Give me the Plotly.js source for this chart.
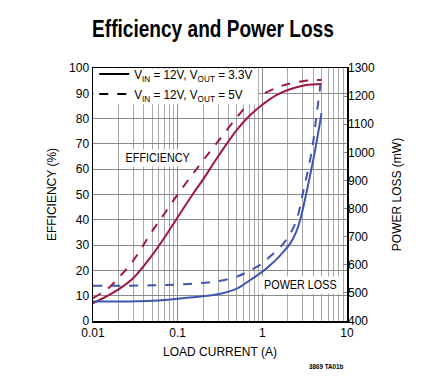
<!DOCTYPE html>
<html>
<head>
<meta charset="utf-8">
<script src="https://cdn.plot.ly/plotly-3.0.1.min.js"></script>
<style>
html,body{margin:0;padding:0;background:#fff;}
#chart{width:440px;height:392px;}
#chart .gtitle{transform-box:fill-box;transform-origin:center;transform:scaleX(0.83);}
#chart .legendtext{transform-box:fill-box;transform-origin:left center;transform:scaleX(0.9);}
#chart .annotation-text{transform-box:fill-box;transform-origin:center;transform:scaleX(0.9);}
</style>
</head>
<body>
<div id="chart"></div>
<script>
// Efficiency (%), Vout = 3.3V (solid)
var currentEff33 = [0.01, 0.015, 0.02, 0.03, 0.05, 0.07, 0.1, 0.15, 0.2, 0.3, 0.5, 0.7, 1, 1.5, 2, 3, 4, 5];
var eff33 = [7, 10, 12.5, 17, 26, 33, 41, 50, 56, 65, 75.5, 81, 85.5, 89.5, 91.3, 93, 93.5, 93.7];
// Efficiency (%), Vout = 5V (dashed)
var currentEff5 = [0.01, 0.015, 0.02, 0.03, 0.05, 0.07, 0.1, 0.15, 0.2, 0.3, 0.5, 0.7, 1, 1.5, 2, 3, 4, 5];
var eff5 = [9, 12.8, 17, 24, 35.5, 42.5, 50, 58, 63.5, 71, 80.5, 86, 89.5, 92.3, 93.7, 94.8, 95.2, 95.3];
// Power loss (mW), Vout = 3.3V (solid)
var currentPl33 = [0.01, 0.05, 0.14, 0.3, 0.5, 0.72, 1.0, 1.24, 1.5, 1.78, 2.14, 2.5, 2.8, 3.37, 4.2, 5.0];
var pl33 = [469, 472, 484, 495, 515, 546, 575, 599, 622, 647, 676, 715, 759, 866, 1008, 1139];
// Power loss (mW), Vout = 5V (dashed)
var currentPl5 = [0.01, 0.05, 0.14, 0.3, 0.5, 0.72, 1.0, 1.24, 1.78, 2.45, 3.07, 3.85, 4.4, 4.85];
var pl5 = [525, 527, 532, 542, 558, 580, 605, 630, 676, 747, 866, 1008, 1139, 1240];

var legendLabels = ["V<sub>IN</sub> = 12V, V<sub>OUT</sub> = 3.3V", "V<sub>IN</sub> = 12V, V<sub>OUT</sub> = 5V"];
var xTickVals = [0.01, 0.1, 1, 10];
var xTickText = ["0.01", "0.1", "1", "10"];
var xMinorVals = [];
[0.01, 0.1, 1].forEach(function (d) {
  for (var k = 2; k <= 9; k++) xMinorVals.push(d * k);
});
var effTicks = [0, 10, 20, 30, 40, 50, 60, 70, 80, 90, 100];
var plTicks = [400, 500, 600, 700, 800, 900, 1000, 1100, 1200, 1300];

var RED = "#a0173f", BLUE = "#4055b0";
var FONT = "Liberation Sans, Arial, sans-serif";

var traces = [
  {x: [null], y: [null], mode: "lines", name: legendLabels[0], line: {color: "#000", width: 2}, showlegend: true},
  {x: [null], y: [null], mode: "lines", name: legendLabels[1], line: {color: "#000", width: 2, dash: "dash"}, showlegend: true},
  {x: currentEff33, y: eff33, mode: "lines", line: {color: RED, width: 2, shape: "spline"}, showlegend: false},
  {x: currentEff5, y: eff5, mode: "lines", line: {color: RED, width: 2, dash: "dash", shape: "spline"}, showlegend: false},
  {x: currentPl33, y: pl33, yaxis: "y2", mode: "lines", line: {color: BLUE, width: 2, shape: "spline"}, showlegend: false},
  {x: currentPl5, y: pl5, yaxis: "y2", mode: "lines", line: {color: BLUE, width: 2, dash: "dash", shape: "spline"}, showlegend: false}
];

var layout = {
  width: 440, height: 392,
  margin: {l: 93, r: 93, t: 68, b: 71},
  paper_bgcolor: "#fff", plot_bgcolor: "#fff",
  font: {family: FONT, size: 12, color: "#000"},
  title: {text: "<b>Efficiency and Power Loss</b>", font: {family: FONT, size: 23, color: "#000"},
          xref: "container", yref: "container", x: 0.484, xanchor: "center", y: 0.925, yanchor: "middle"},
  showlegend: true,
  legend: {x: 0.005, y: 1.035, xanchor: "left", yanchor: "top", bgcolor: "rgba(0,0,0,0)", borderwidth: 0,
           font: {family: FONT, size: 13}, tracegroupgap: 0, itemwidth: 30},
  shapes: [
    {type: "rect", xref: "paper", yref: "paper", x0: 0.004, x1: 0.65, y0: 0.857, y1: 0.996,
     fillcolor: "#fff", line: {width: 0}, layer: "above"}
  ],
  xaxis: {type: "log", range: [-2, 1], tickmode: "array", tickvals: xTickVals, ticktext: xTickText,
          showgrid: true, gridcolor: "#8a8a8a", gridwidth: 1, showline: true, linecolor: "#000", linewidth: 1.5,
          mirror: true, ticks: "", zeroline: false, tickfont: {size: 12},
          minor: {tickmode: "array", tickvals: xMinorVals, showgrid: true, gridcolor: "#a8a8a8", gridwidth: 1, ticks: ""},
          title: {text: "LOAD CURRENT (A)", font: {size: 12}, standoff: 8}},
  yaxis: {range: [0, 100], tickmode: "array", tickvals: effTicks, showgrid: true, gridcolor: "#8a8a8a",
          gridwidth: 1, showline: true, linecolor: "#000", linewidth: 1.5, mirror: true, ticks: "", zeroline: false,
          tickfont: {size: 12}, title: {text: "EFFICIENCY (%)", font: {size: 12}, standoff: 10}},
  yaxis2: {range: [400, 1300], overlaying: "y", side: "right", tickmode: "array", tickvals: plTicks,
           showgrid: false, zeroline: false, ticks: "inside", ticklen: 4, tickcolor: "#888", showline: false,
           tickfont: {size: 12}, title: {text: "POWER LOSS (mW)", font: {size: 12}, standoff: 18}},
  annotations: [
    {text: "EFFICIENCY", xref: "x", yref: "y", x: Math.log10(0.057), y: 64.5, showarrow: false,
     bgcolor: "#fff", font: {size: 12}, borderpad: 1},
    {text: "POWER LOSS", xref: "x", yref: "y", x: Math.log10(2.8), y: 14.2, showarrow: false,
     bgcolor: "#fff", font: {size: 12}, borderpad: 1},
    {text: "<b>3869 TA01b</b>", xref: "paper", yref: "paper", x: 1, y: -0.18, xanchor: "right", yanchor: "middle",
     showarrow: false, font: {size: 7}}
  ]
};

Plotly.newPlot("chart", traces, layout, {displayModeBar: false, staticPlot: true});
</script>
</body>
</html>
